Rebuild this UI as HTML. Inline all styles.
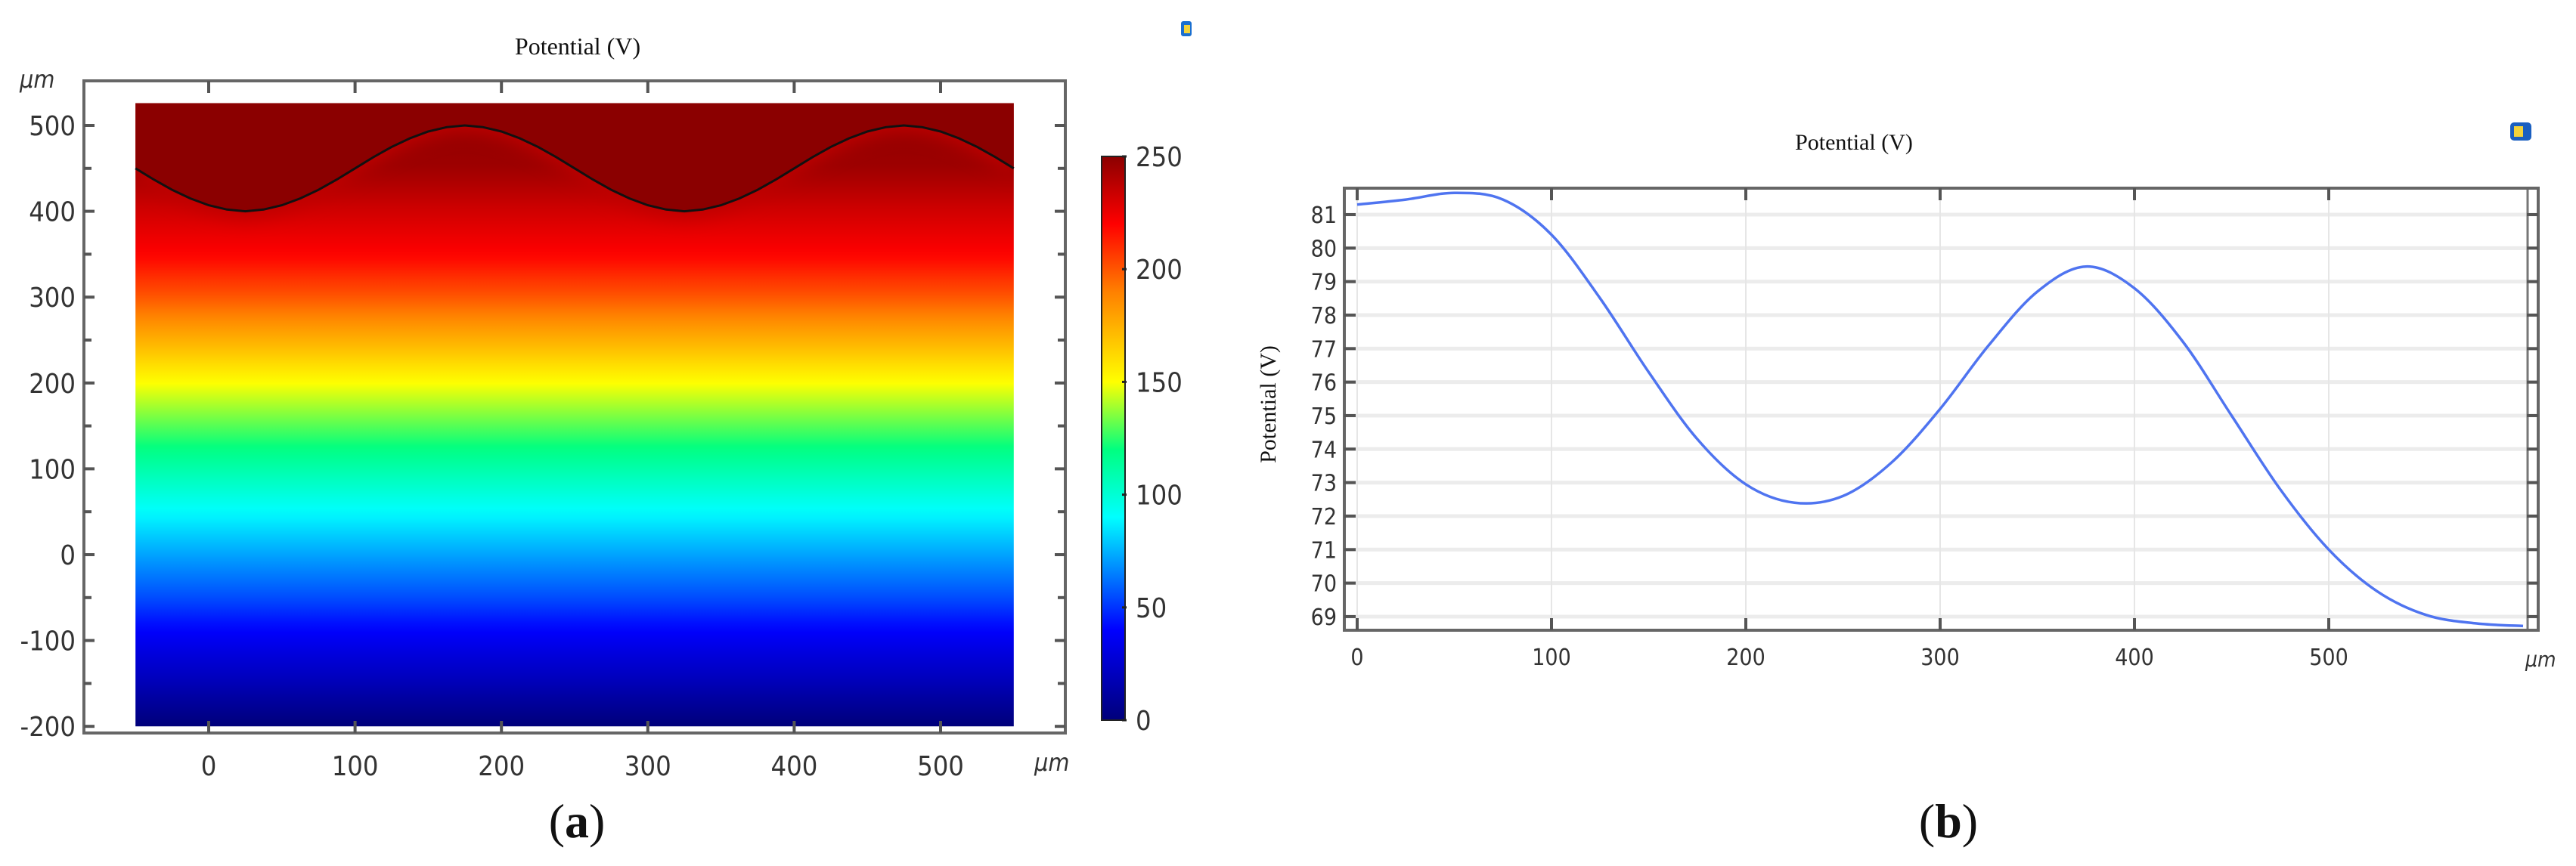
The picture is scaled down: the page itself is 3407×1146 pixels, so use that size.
<!DOCTYPE html>
<html><head><meta charset="utf-8">
<style>
html,body{margin:0;padding:0;background:#fff;overflow:hidden;}
svg{display:block;}
.tk{font-family:"DejaVu Sans Condensed","DejaVu Sans","Liberation Sans",sans-serif;fill:#333;}
.sf{font-family:"Liberation Serif",serif;fill:#111;}
</style></head>
<body>
<svg id="fig" width="3407" height="1146" viewBox="0 0 3407 1146" xmlns="http://www.w3.org/2000/svg">
<defs>
<linearGradient id="fieldGrad" x1="0" y1="0" x2="0" y2="1"></linearGradient>
<linearGradient id="cbarGrad" x1="0" y1="1" x2="0" y2="0"></linearGradient>
<filter id="blur" x="-20%" y="-50%" width="140%" height="200%"><feGaussianBlur stdDeviation="12"/></filter>
<clipPath id="domClip"><rect id="domClipRect" x="0" y="0" width="0" height="0"/></clipPath>
</defs>
<g id="panelA"></g>
<g id="panelB"></g>
<text class="sf" x="763" y="1108" font-size="64" text-anchor="middle">(<tspan font-weight="bold">a</tspan>)</text>
<text class="sf" x="2577" y="1108" font-size="64" text-anchor="middle">(<tspan font-weight="bold">b</tspan>)</text>
</svg>
<script>
// ---------- Panel A data ----------
const aXTicks = [0,100,200,300,400,500];
const aYTicks = [-200,-100,0,100,200,300,400,500];
const cbTicks = [0,50,100,150,200,250];
const profileY = [-200,-150,-100,-50,0,50,100,125,150,200,250,300,350,400,450,526];
const profileV = [0,18,35,55,72,90,110,120,130,150,175,200,220,232,245,250];
const cmapV = [0,40,90,120,150,190,220,250];
const cmapC = ["#00007a","#0000ff","#00ffff","#00ff80","#ffff00","#ff8000","#ff0000","#8b0000"];
const boundaryX = [-50,-37.5,-25,-12.5,0,12.5,25,37.5,50,62.5,75,87.5,100,112.5,125,137.5,150,162.5,175,187.5,200,212.5,225,237.5,250,262.5,275,287.5,300,312.5,325,337.5,350,362.5,375,387.5,400,412.5,425,437.5,450,462.5,475,487.5,500,512.5,525,537.5,550];
const boundaryY = [450,437,425,415,407,402,400,402,407,415,425,437,450,463,475,485,493,498,500,498,493,485,475,463,450,437,425,415,407,402,400,402,407,415,425,437,450,463,475,485,493,498,500,498,493,485,475,463,450];

// ---------- Panel B data ----------
const bX = [0,25,50,75,100,125,150,175,200,225,250,275,300,325,350,375,400,425,450,475,500,525,550,575,600];
const bV = [81.3,81.45,81.65,81.45,80.4,78.5,76.3,74.3,72.95,72.4,72.6,73.6,75.2,77.1,78.7,79.45,78.8,77.2,75.0,72.8,71.0,69.75,69.05,68.8,68.72];
const bXTicks = [0,100,200,300,400,500];
const bYTicks = [69,70,71,72,73,74,75,76,77,78,79,80,81];

const NS="http://www.w3.org/2000/svg";
function mk(tag, attrs, parent){const e=document.createElementNS(NS,tag);for(const k in attrs)e.setAttribute(k,attrs[k]);if(parent)parent.appendChild(e);return e;}

// ===== Panel A =====
const A=document.getElementById('panelA');
const ax = v => 276 + v*1.936;
const ay = v => 734 - v*1.136;
const cy = v => 953 - v*2.984;
let t=mk('text',{class:'sf',x:764,y:72,'font-size':32,'text-anchor':'middle'},A);t.textContent='Potential (V)';


let ic=mk('rect',{x:1562,y:28,width:14,height:20,fill:'#1a6fd0',rx:3},A);


mk('rect',{x:1566,y:33,width:8,height:11,fill:'#f3d23a'},A);
let fr=mk('rect',{x:111,y:107,width:1298,height:863,fill:'none',stroke:'#666','stroke-width':4},A);


const yTop=526,yBot=-200;
const fg=document.getElementById('fieldGrad');
function interp(xs,ys,v){for(let i=0;i<xs.length-1;i++){if(v<=xs[i+1]){const f=(v-xs[i])/(xs[i+1]-xs[i]);return ys[i]+f*(ys[i+1]-ys[i]);}}return ys[ys.length-1];}
function hex(c){return [parseInt(c.substr(1,2),16),parseInt(c.substr(3,2),16),parseInt(c.substr(5,2),16)];}
function cmap(v){for(let i=0;i<cmapV.length-1;i++){if(v<=cmapV[i+1]){const f=(v-cmapV[i])/(cmapV[i+1]-cmapV[i]);const a=hex(cmapC[i]),b=hex(cmapC[i+1]);return 'rgb('+a.map((x,j)=>Math.round(x+f*(b[j]-x))).join(',')+')';}}return cmapC[cmapC.length-1];}
for(let i=0;i<=60;i++){const yv=yTop-(yTop-yBot)*i/60;mk('stop',{offset:(i/60),'stop-color':cmap(interp(profileY,profileV,yv))},fg);}
const cg=document.getElementById('cbarGrad');
for(let i=0;i<cmapV.length;i++){mk('stop',{offset:cmapV[i]/250,'stop-color':cmapC[i]},cg);}
const dx0=ax(-50),dx1=ax(550),dy0=ay(yTop),dy1=ay(yBot);
const cr=document.getElementById('domClipRect');cr.setAttribute('x',dx0);cr.setAttribute('y',dy0);cr.setAttribute('width',dx1-dx0);cr.setAttribute('height',dy1-dy0);
let field=mk('rect',{x:dx0,y:dy0,width:dx1-dx0,height:dy1-dy0,fill:'url(#fieldGrad)'},A);


let bp='';for(let i=0;i<boundaryX.length;i++){bp+=(i?'L':'M')+ax(boundaryX[i]).toFixed(1)+','+ay(boundaryY[i]).toFixed(1);}
const areaPath=bp+'L'+dx1+','+dy0+'L'+dx0+','+dy0+'Z';
const gClip=mk('g',{'clip-path':'url(#domClip)'},A);
let glow=mk('path',{d:areaPath,fill:'#c00000',filter:'url(#blur)',transform:'translate(0,8)'},gClip);


let el=mk('path',{d:areaPath,fill:'#8b0000'},gClip);


let bl=mk('path',{d:bp,fill:'none',stroke:'#111','stroke-width':3},A);


aXTicks.forEach(v=>{const x=ax(v);mk('line',{x1:x,y1:970,x2:x,y2:954,stroke:'#555','stroke-width':4},A);mk('line',{x1:x,y1:107,x2:x,y2:123,stroke:'#555','stroke-width':4},A);
 const l=mk('text',{class:'tk',x:x,y:1026,'font-size':36,'text-anchor':'middle'},A);l.textContent=v;
 
 });
for(let v=-200;v<=500;v+=50){const y=ay(v);const len=(v%100===0)?14:10;mk('line',{x1:111,y1:y,x2:111+len,y2:y,stroke:'#555','stroke-width':4},A);mk('line',{x1:1409,y1:y,x2:1409-len,y2:y,stroke:'#555','stroke-width':4},A);}
aYTicks.forEach(v=>{const l=mk('text',{class:'tk',x:100,y:ay(v)+13,'font-size':36,'text-anchor':'end'},A);l.textContent=v;
 
 });
let u1=mk('text',{class:'tk',x:26,y:116,'font-size':32,'font-style':'italic'},A);u1.textContent='μm';


let u2=mk('text',{class:'tk',x:1368,y:1020,'font-size':32,'font-style':'italic'},A);u2.textContent='μm';


let cb=mk('rect',{x:1457,y:cy(250),width:31,height:cy(0)-cy(250),fill:'url(#cbarGrad)',stroke:'#222','stroke-width':2},A);


cbTicks.forEach(v=>{const y=cy(v);mk('line',{x1:1484,y1:y,x2:1490,y2:y,stroke:'#222','stroke-width':3},A);
 const l=mk('text',{class:'tk',x:1502,y:y+13,'font-size':36},A);l.textContent=v;
 
 });

// ===== Panel B =====
const B=document.getElementById('panelB');
const bx = v => 1795 + v*2.57;
const by = v => 284 + (81-v)*44.33;
let tb=mk('text',{class:'sf',x:2452,y:198,'font-size':30,'text-anchor':'middle'},B);tb.textContent='Potential (V)';


let ib=mk('rect',{x:3320,y:162,width:28,height:24,fill:'#1a5fc0',rx:5},B);


mk('rect',{x:3325,y:167,width:12,height:14,fill:'#f3d23a'},B);
bYTicks.forEach(v=>{const g=mk('line',{x1:1778,y1:by(v),x2:3357,y2:by(v),stroke:'#ececec','stroke-width':5},B);
 
 });
bXTicks.forEach(v=>{const g=mk('line',{x1:bx(v),y1:249,x2:bx(v),y2:834,stroke:'#e6e6e6','stroke-width':2},B);
 
 });
mk('line',{x1:3343,y1:249,x2:3343,y2:834,stroke:'#777','stroke-width':3},B);
let fb=mk('rect',{x:1778,y:249,width:1579,height:585,fill:'none',stroke:'#666','stroke-width':4},B);


bXTicks.forEach(v=>{const x=bx(v);mk('line',{x1:x,y1:834,x2:x,y2:818,stroke:'#555','stroke-width':4},B);mk('line',{x1:x,y1:249,x2:x,y2:265,stroke:'#555','stroke-width':4},B);
 const l=mk('text',{class:'tk',x:x,y:880,'font-size':30,'text-anchor':'middle'},B);l.textContent=v;
 
 });
bYTicks.forEach(v=>{const y=by(v);mk('line',{x1:1778,y1:y,x2:1793,y2:y,stroke:'#555','stroke-width':4},B);mk('line',{x1:3357,y1:y,x2:3342,y2:y,stroke:'#555','stroke-width':4},B);
 const l=mk('text',{class:'tk',x:1768,y:y+11,'font-size':30,'text-anchor':'end'},B);l.textContent=v;
 
 });
let u3=mk('text',{class:'tk',x:3340,y:882,'font-size':28,'font-style':'italic'},B);u3.textContent='μm';


let yt=mk('text',{class:'sf',x:0,y:0,'font-size':30,'text-anchor':'middle',transform:'translate(1687,535) rotate(-90)',fill:'#6a4a20'},B);yt.textContent='Potential (V)';


let pts=bX.map((x,i)=>[bx(x),by(bV[i])]);
let d='M'+pts[0][0]+','+pts[0][1];
for(let i=0;i<pts.length-1;i++){const p0=pts[i-1]||pts[i],p1=pts[i],p2=pts[i+1],p3=pts[i+2]||p2;
 d+='C'+(p1[0]+(p2[0]-p0[0])/6).toFixed(1)+','+(p1[1]+(p2[1]-p0[1])/6).toFixed(1)+' '+(p2[0]-(p3[0]-p1[0])/6).toFixed(1)+','+(p2[1]-(p3[1]-p1[1])/6).toFixed(1)+' '+p2[0].toFixed(1)+','+p2[1].toFixed(1);}
let ln=mk('path',{d:d,fill:'none',stroke:'#4f74f0','stroke-width':3.5},B);


</script>
</body></html>
